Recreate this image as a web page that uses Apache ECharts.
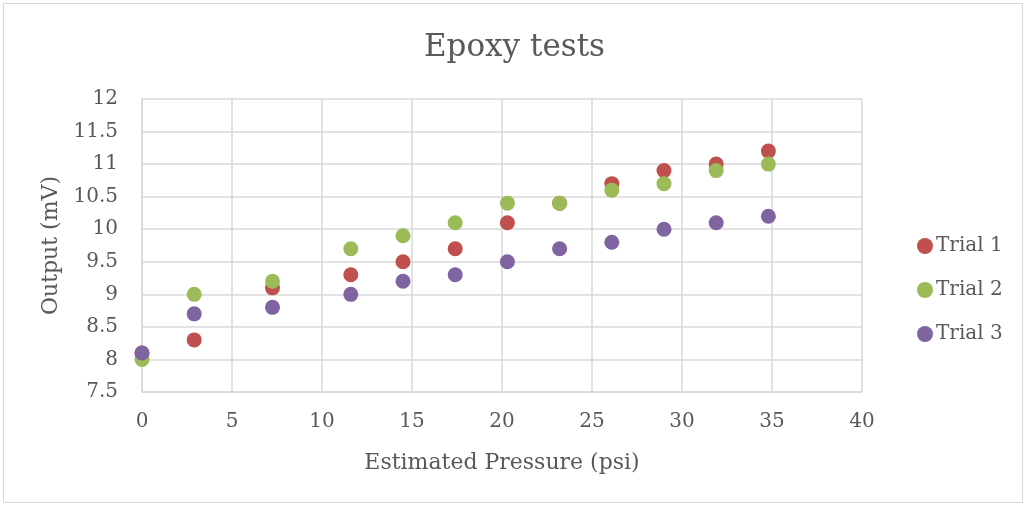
<!DOCTYPE html>
<html>
<head>
<meta charset="utf-8">
<script src="https://cdn.jsdelivr.net/npm/echarts@6/dist/echarts.min.js"></script>
<style>
  html, body { margin: 0; padding: 0; background: #fff; }
  #frame { position: absolute; left: 3px; top: 3px; width: 1020px; height: 500px; border: 1px solid #D9D9D9; box-sizing: border-box; }
  #chart { width: 1029px; height: 508px; }
</style>
</head>
<body>
<div id="frame"></div>
<div id="chart"></div>
<script>
// Estimated pressure (psi) at each load step
const pressure = [0, 2.9, 7.25, 11.6, 14.5, 17.4, 20.3, 23.2, 26.1, 29.0, 31.9, 34.8];
// Output voltage (mV) for each trial
const trial1 = [8.1, 8.3, 9.1, 9.3, 9.5, 9.7, 10.1, 10.4, 10.7, 10.9, 11.0, 11.2];
const trial2 = [8.0, 9.0, 9.2, 9.7, 9.9, 10.1, 10.4, 10.4, 10.6, 10.7, 10.9, 11.0];
const trial3 = [8.1, 8.7, 8.8, 9.0, 9.2, 9.3, 9.5, 9.7, 9.8, 10.0, 10.1, 10.2];
const seriesNames = ['Trial 1', 'Trial 2', 'Trial 3'];
const colors = ['#C0504D', '#9BBB59', '#8064A2'];

const font = "'DejaVu Serif', 'Liberation Serif', serif";
const textColor = '#595959';

function pairs(ys) { return pressure.map((x, i) => [x, ys[i]]); }

const chart = echarts.init(document.getElementById('chart'));
chart.setOption({
  animation: false,
  color: colors,
  title: {
    text: 'Epoxy tests',
    left: 'center',
    top: 27,
    textStyle: { fontFamily: font, fontSize: 31, fontWeight: 'normal', color: textColor }
  },
  legend: {
    orient: 'vertical',
    left: 912,
    top: 231,
    itemGap: 24,
    itemWidth: 16,
    itemHeight: 16,
    icon: 'circle',
    textStyle: { fontFamily: font, fontSize: 20, color: textColor, padding: [0, 0, 0, -2] },
    data: seriesNames
  },
  grid: { left: 142, right: 167, top: 99, bottom: 116, containLabel: false },
  xAxis: {
    type: 'value',
    min: 0, max: 40, interval: 5,
    name: 'Estimated Pressure (psi)',
    nameLocation: 'middle',
    nameGap: 60,
    nameTextStyle: { fontFamily: font, fontSize: 22, color: textColor },
    axisLine: { show: true, lineStyle: { color: '#D9D9D9', width: 1.5 } },
    axisTick: { show: false },
    axisLabel: { fontFamily: font, fontSize: 20, color: textColor, margin: 20 },
    splitLine: { show: true, lineStyle: { color: '#D9D9D9', width: 1.5 } }
  },
  yAxis: {
    type: 'value',
    min: 7.5, max: 12, interval: 0.5,
    name: 'Output (mV)',
    nameLocation: 'middle',
    nameGap: 71,
    nameTextStyle: { fontFamily: font, fontSize: 22, color: textColor },
    axisLine: { show: true, lineStyle: { color: '#D9D9D9', width: 1.5 } },
    axisTick: { show: false },
    axisLabel: { fontFamily: font, fontSize: 20, color: textColor, margin: 24 },
    splitLine: { show: true, lineStyle: { color: '#D9D9D9', width: 1.5 } }
  },
  series: seriesNames.map((name, k) => ({
    name: name,
    type: 'scatter',
    symbolSize: 15,
    itemStyle: { opacity: 1 },
    data: pairs([trial1, trial2, trial3][k])
  }))
});
</script>
</body>
</html>
